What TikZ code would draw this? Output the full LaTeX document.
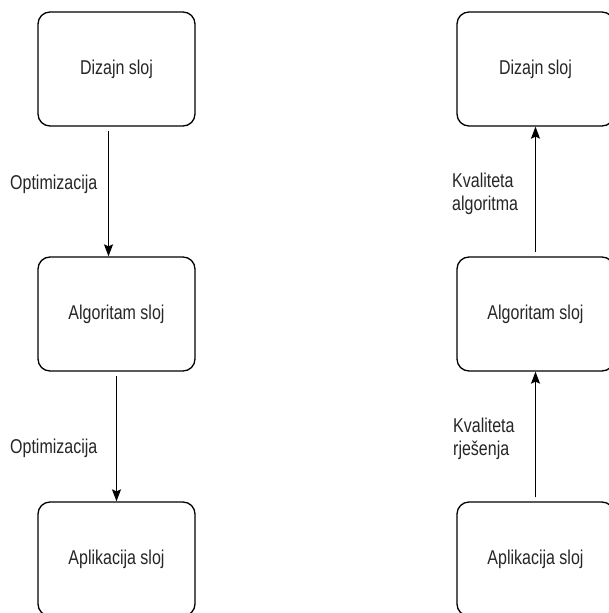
\documentclass[tikz,border=0pt]{standalone}
\usepackage{fontspec}
\setmainfont{Liberation Sans}[FakeStretch=0.8]
\usepackage{tikz}
\usetikzlibrary{arrows.meta}
\pgfdeclarelayer{edgelayer}
\pgfdeclarelayer{nodelayer}
\pgfsetlayers{edgelayer,nodelayer,main}
\tikzstyle{none}=[inner sep=0pt]
\tikzstyle{layer}=[rectangle, rounded corners=12pt, draw, line width=1.3pt, minimum width=157pt, minimum height=114pt, text=black!85, font=\fontsize{20}{23}\selectfont]
\tikzstyle{lbl}=[inner sep=0pt, anchor=west, align=left, text=black!85, font=\fontsize{20}{23}\selectfont]
\begin{document}
\begin{tikzpicture}[x=1pt, y=-1pt, >={Stealth[length=12pt, width=9pt, inset=2pt]}]
	\useasboundingbox (0, 0) rectangle (608, 613);
	\begin{pgfonlayer}{nodelayer}
		\node [style=layer] (0) at (116.5, 69) {Dizajn sloj};
		\node [style=layer] (1) at (116.5, 314) {Algoritam sloj};
		\node [style=layer] (2) at (116.5, 559) {Aplikacija sloj};
		\node [style=layer] (3) at (535.5, 69) {Dizajn sloj};
		\node [style=layer] (4) at (535.5, 314) {Algoritam sloj};
		\node [style=layer] (5) at (535.5, 559) {Aplikacija sloj};
		\node [style=lbl] (6) at (10, 184) {Optimizacija};
		\node [style=lbl] (7) at (10, 448) {Optimizacija};
		\node [style=lbl] (8) at (452, 194) {Kvaliteta\\algoritma};
		\node [style=lbl] (9) at (453, 439) {Kvaliteta\\rješenja};
	\end{pgfonlayer}
	\begin{pgfonlayer}{edgelayer}
		\fill [white] (0, 0) rectangle (608, 613);
		\draw [->, line width=1.3pt, shorten <=4pt] ([xshift=-8pt]0.south) to ([xshift=-8pt]1.north);
		\draw [->, line width=1.3pt, shorten <=4pt] (1.south) to (2.north);
		\draw [->, line width=1.3pt, shorten <=4pt] (4.north) to (3.south);
		\draw [->, line width=1.3pt, shorten <=4pt] (5.north) to (4.south);
	\end{pgfonlayer}
\end{tikzpicture}
\end{document}
